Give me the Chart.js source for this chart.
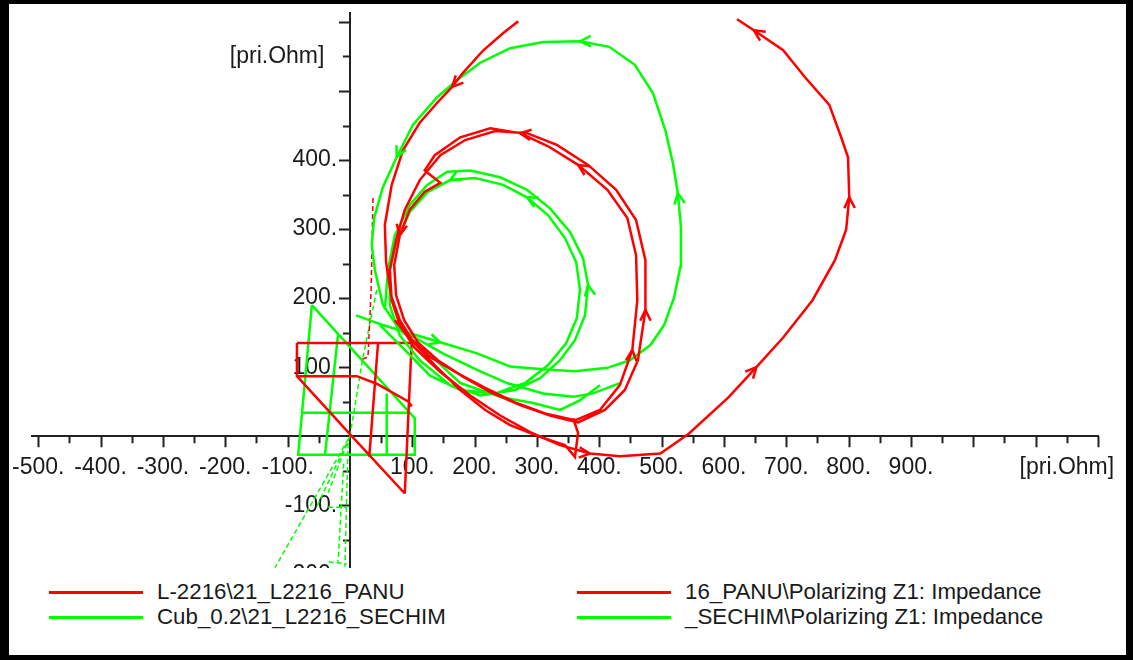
<!DOCTYPE html>
<html>
<head>
<meta charset="utf-8">
<script src="https://cdn.jsdelivr.net/npm/chart.js@4.4.0/dist/chart.umd.min.js"></script>
<style>
    html, body { margin: 0; padding: 0; background: #000; }
    #frame { position: absolute; left: 9px; top: 4px; width: 1117px; height: 651px; background: #fff; }
    #chart { position: absolute; left: 0; top: 0; }
    #legend {
        position: absolute; left: 9px; top: 568px; width: 1117px; height: 87px;
        background: #fff; color: #1a1a1a;
        font: 22.3px "Liberation Sans", Arial, sans-serif;
    }
    .legendText { position: absolute; height: 26px; line-height: 26px; white-space: pre; }
    .legendLine { position: absolute; width: 94px; height: 3px; }
</style>
</head>
<body>
<div id="frame"></div>
<canvas id="chart" width="1133" height="660"></canvas>
<div id="legend"></div>
<script>
// Axis ranges (ohm, primary).
const xMin = -510, xMax = 1200;
const yMin = -230, yMax = 613;

const unitLabel = '[pri.Ohm]';
const xLabelValues = [-500, -400, -300, -200, -100, 100, 200, 300, 400, 500, 600, 700, 800, 900];
const yLabelValues = [-200, -100, 100, 200, 300, 400];
const xUnitTick = 1150;
const yUnitTick = 550;

const seriesLabels = [
    'L-2216\\21_L2216_PANU',
    'Cub_0.2\\21_L2216_SECHIM',
    '16_PANU\\Polarizing Z1: Impedance',
    '_SECHIM\\Polarizing Z1: Impedance'
];
const red = '#ff0000';
const green = '#00ff00';
const seriesColors = [red, green, red, green];

// Impedance trajectories, [R, X] pairs.
const panuTrace = [
    [270, 601], [246, 584], [214, 559], [181, 526], [164, 506], [140, 483], [112, 454], [85, 414],
    [67, 364], [56, 306], [58, 252], [66, 204], [80, 168], [100, 139], [128, 115], [169, 93],
    [217, 70], [265, 49], [313, 33], [361, 23],
    [401, 38], [433, 74], [453, 125], [461, 197], [459, 262], [445, 316], [413, 357], [366, 393],
    [318, 420], [273, 439], [225, 446], [177, 433], [136, 407], [120, 385], [145, 367], [120, 354],
    [96, 328], [80, 291], [71, 248], [74, 204], [87, 168], [109, 136], [141, 110], [180, 87],
    [225, 64], [273, 45], [321, 30], [366, 20],
    [409, 38], [441, 67], [462, 110], [474, 183], [474, 255], [459, 313], [427, 357], [382, 393],
    [332, 422], [284, 439], [233, 442], [185, 429], [145, 407], [112, 371], [88, 328], [74, 284],
    [64, 241], [67, 197], [80, 161], [104, 128], [145, 93], [193, 59], [241, 30], [289, 6],
    [337, -13], [385, -25],
    [433, -29], [498, -25], [544, 4], [608, 57], [652, 100], [695, 143], [742, 197], [778, 255],
    [796, 299], [801, 346], [799, 404], [788, 433], [769, 480], [730, 520], [695, 559], [648, 588],
    [621, 604]
];
const panuTrace2 = [
    [72, 168], [96, 142], [136, 103], [177, 67], [217, 38], [257, 16], [305, -1], [345, -13],
    [361, -30], [366, 5], [358, 26]
];
const sechimTrace = [
    [10, 175], [53, 161], [85, 152], [145, 136], [204, 120], [257, 101], [310, 97], [361, 94],
    [413, 99], [449, 110], [482, 132], [504, 161], [520, 201], [530, 245], [531, 303], [526, 352],
    [518, 396], [506, 443], [486, 497], [457, 538], [416, 564], [369, 572], [310, 571], [257, 562],
    [209, 541], [172, 516], [140, 491], [101, 451], [75, 404], [53, 361], [39, 317], [35, 277],
    [40, 241], [53, 190], [80, 154], [120, 125], [177, 77], [241, 57], [294, 48], [337, 38],
    [369, 52], [401, 74]
];
const sechimLoops = [
    [48, 161], [88, 125], [128, 88], [177, 67], [233, 62], [281, 77], [318, 103], [347, 135],
    [364, 171], [369, 212], [363, 252], [345, 287], [318, 320], [284, 346], [246, 364], [201, 374],
    [161, 371], [125, 354], [96, 325], [75, 284], [64, 241], [64, 190], [80, 146], [112, 110],
    [161, 74], [209, 59], [265, 67], [305, 84], [337, 110], [361, 139], [377, 175], [382, 219],
    [374, 258], [353, 296], [321, 330], [284, 357], [241, 375], [193, 385], [156, 383], [124, 364],
    [96, 335], [72, 291], [61, 241], [56, 183]
];
const sechimTrace2 = [
    [92, 149], [149, 120], [204, 96], [252, 77], [310, 62], [358, 57], [390, 62], [433, 77]
];

// Relay zone characteristics (null breaks the line).
const panuZone = [
    [-85, 135], [99, 135], null,
    [-85, 135], [-85, 87], [11, 87], [43, 76], [94, 50], [99, 43], null,
    [-85, 87], [0, 3], [88, -83], null,
    [99, 135], [88, -83], null,
    [45, 134], [31, -30]
];
const sechimZone = [
    [-61, 190], [104, 26], [104, -27], [-83, -27], [-61, 190], null,
    [-77, 34], [96, 34], null,
    [-19, 148], [-40, -27], null,
    [59, 62], [59, -27]
];

// Polarizing impedance.
const panuPolar = [[37, 345], [34, 212], [29, 115], [16, 110]];
const sechimPolar = [
    [43, 212], [20, 110], [0, 0], [-120, -190], null,
    [0, 0], [-53, -102], null,
    [0, 0], [-35, -82], null,
    [-3, -10], [-8, -189], null,
    [-10, -40], [-19, -182], null,
    [-35, -103], [-5, -103], null,
    [-34, -182], [-5, -185]
];

// Arrow heads: dataset index, point index (direction to the next point).
const arrowMarks = [
    [0, 4], [0, 22], [0, 27], [0, 29], [0, 37], [0, 51], [0, 73], [0, 78], [0, 83], [0, 89],
    [2, 3], [2, 15], [2, 21], [2, 28],
    [3, 13], [3, 16], [3, 31]
];


function toPoints(list) {
    return list.map(p => p ? {x: p[0], y: p[1]} : {x: NaN, y: NaN});
}

function lineSet(label, list, color, dash) {
    return {
        label: label,
        data: toPoints(list),
        showLine: true,
        borderColor: color,
        backgroundColor: color,
        borderWidth: dash ? 1.5 : 2.5,
        borderDash: dash ? [5, 3] : [],
        pointRadius: 0,
        tension: 0
    };
}

function stepValues(from, to, step) {
    const out = [];
    for (let v = from; v <= to; v += step) out.push({value: v});
    return out;
}

// The axes cross inside the plot, so they should not push the plot area in.
function noPadding(scale) {
    scale.paddingTop = scale.paddingBottom = scale.paddingLeft = scale.paddingRight = 0;
}

// Labels of an axis placed at x=0 sit right against it; trailing spaces
// keep them clear of the tick marks.
function yLabel(v) {
    if (yLabelValues.includes(v)) return v + '.  ';
    if (v === yUnitTick) return unitLabel + '    ';
    return '';
}

const axisTicks = {
    id: 'axisTicks',
    beforeDatasetsDraw(chart) {
        const ctx = chart.ctx;
        const xs = chart.scales.x, ys = chart.scales.y;
        const x0 = xs.getPixelForValue(0), y0 = ys.getPixelForValue(0);
        ctx.save();
        ctx.strokeStyle = '#222';
        ctx.lineWidth = 2;
        ctx.beginPath();
        for (const t of xs.ticks) {
            if (t.value === 0) continue;
            const px = Math.round(xs.getPixelForValue(t.value)) + 0.5;
            ctx.moveTo(px, y0);
            ctx.lineTo(px, y0 + (t.value % 100 === 0 ? 11 : 7));
        }
        for (const t of ys.ticks) {
            if (t.value === 0) continue;
            const py = Math.round(ys.getPixelForValue(t.value)) + 0.5;
            ctx.moveTo(x0, py);
            ctx.lineTo(x0 - (t.value % 100 === 0 ? 11 : 7), py);
        }
        ctx.stroke();
        ctx.restore();
    }
};

const arrowHeads = {
    id: 'arrowHeads',
    afterDatasetsDraw(chart) {
        const ctx = chart.ctx;
        ctx.save();
        ctx.lineWidth = 2.5;
        for (const [ds, i] of arrowMarks) {
            const pts = chart.getDatasetMeta(ds).data;
            const a = pts[i], b = pts[i + 1];
            const ang = Math.atan2(b.y - a.y, b.x - a.x);
            ctx.strokeStyle = chart.data.datasets[ds].borderColor;
            ctx.beginPath();
            for (const s of [-1, 1]) {
                ctx.moveTo(a.x, a.y);
                ctx.lineTo(a.x - 12 * Math.cos(ang + s * 0.45), a.y - 12 * Math.sin(ang + s * 0.45));
            }
            ctx.stroke();
        }
        ctx.restore();
    }
};

Chart.defaults.font.family = '"Liberation Sans", Arial, sans-serif';
Chart.defaults.font.size = 23;

new Chart(document.getElementById('chart'), {
    type: 'scatter',
    data: {
        datasets: [
            lineSet(seriesLabels[0], panuTrace, red),
            lineSet(seriesLabels[0], panuTrace2, red),
            lineSet(seriesLabels[1], sechimTrace, green),
            lineSet(seriesLabels[1], sechimLoops, green),
            lineSet(seriesLabels[1], sechimTrace2, green),
            lineSet(seriesLabels[0], panuZone, red),
            lineSet(seriesLabels[1], sechimZone, green),
            lineSet(seriesLabels[2], panuPolar, red, true),
            lineSet(seriesLabels[3], sechimPolar, green, true)
        ]
    },
    options: {
        responsive: false,
        animation: false,
        devicePixelRatio: 1,
        layout: { padding: { left: 32, right: 35, top: 13, bottom: 65 } },
        plugins: { legend: { display: false }, tooltip: { enabled: false } },
        scales: {
            x: {
                type: 'linear',
                min: xMin, max: xMax,
                position: { y: 0 },
                grid: { display: false },
                border: { display: true, color: '#222', width: 2 },
                afterBuildTicks: scale => { scale.ticks = stepValues(-500, xMax, 50); },
                afterFit: noPadding,
                ticks: {
                    autoSkip: false, maxRotation: 0, minRotation: 0,
                    padding: 10, color: '#1a1a1a',
                    callback: v => xLabelValues.includes(v) ? v + '.' : (v === xUnitTick ? unitLabel : '')
                }
            },
            y: {
                type: 'linear',
                min: yMin, max: yMax,
                position: { x: 0 },
                grid: { display: false },
                border: { display: true, color: '#222', width: 2 },
                afterBuildTicks: scale => { scale.ticks = stepValues(-200, 600, 50); },
                afterFit: noPadding,
                ticks: { autoSkip: false, color: '#1a1a1a', callback: yLabel }
            }
        }
    },
    plugins: [axisTicks, arrowHeads]
});

// Legend in two columns, lines then labels.
const legend = document.getElementById('legend');
const legendCols = [{line: 40, text: 148}, {line: 568, text: 676}];
const legendRows = [24, 49];
seriesLabels.forEach((label, k) => {
    const col = legendCols[Math.floor(k / 2)];
    const rowY = legendRows[k % 2];
    const line = document.createElement('div');
    line.className = 'legendLine';
    line.style.left = col.line + 'px';
    line.style.top = (rowY - 1) + 'px';
    line.style.background = seriesColors[k];
    legend.appendChild(line);
    const text = document.createElement('div');
    text.className = 'legendText';
    text.style.left = col.text + 'px';
    text.style.top = (rowY - 13) + 'px';
    text.textContent = label;
    legend.appendChild(text);
});
</script>
</body>
</html>
